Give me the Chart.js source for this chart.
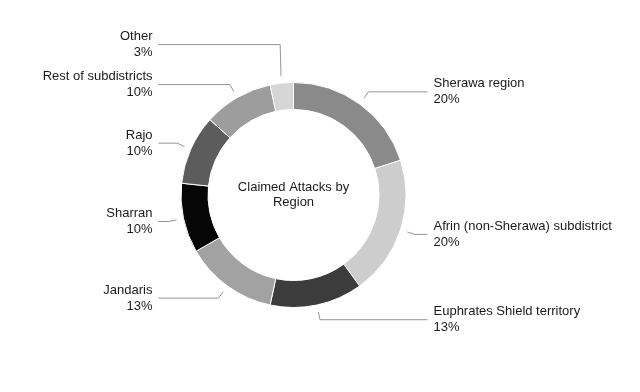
<!DOCTYPE html>
<html>
<head>
<meta charset="utf-8">
<title>Claimed Attacks by Region</title>
<script src="https://cdn.jsdelivr.net/npm/chart.js@4"></script>
<style>
  html, body { margin: 0; padding: 0; background: #fff; }
  canvas { display: block; }
</style>
</head>
<body>
<canvas id="myChart" width="640" height="392"></canvas>
<script>
// datos del grafico
const regiones = [
  "Sherawa region",
  "Afrin (non-Sherawa) subdistrict",
  "Euphrates Shield territory",
  "Jandaris",
  "Sharran",
  "Rajo",
  "Rest of subdistricts",
  "Other"
];
const ataques = [6, 6, 4, 4, 3, 3, 3, 1];
const tituloCentro = ["Claimed Attacks by", "Region"];

// colores de cada porcion (grises)
const colores = ["#8a8a8a", "#cdcdcd", "#3c3c3c", "#a2a2a2", "#060606", "#5c5c5c", "#9d9d9d", "#d6d6d6"];

const fuente = '13px "Liberation Sans", Arial, sans-serif';

// plugin para las etiquetas con lineas guia y el texto del centro
const etiquetasPlugin = {
  id: "etiquetas",
  afterDatasetsDraw(chart) {
    const ctx = chart.ctx;
    const arcos = chart.getDatasetMeta(0).data;
    const total = ataques.reduce((a, b) => a + b, 0);
    let cx = 0, cy = 0;

    const items = arcos.map((arco, i) => {
      const p = arco.getProps(["x", "y", "startAngle", "endAngle", "outerRadius"], true);
      cx = p.x; cy = p.y;
      const medio = (p.startAngle + p.endAngle) / 2;
      const c = Math.cos(medio), s = Math.sin(medio);
      return {
        i,
        derecha: c >= 0,
        sx: p.x + c * (p.outerRadius + 7),
        sy: p.y + s * (p.outerRadius + 7),
        ex: p.x + c * (p.outerRadius + 15),
        ey: p.y + s * (p.outerRadius + 15)
      };
    });

    // evitar que las etiquetas se encimen (se empujan hacia arriba)
    [true, false].forEach((lado) => {
      const grupo = items.filter((it) => it.derecha === lado).sort((a, b) => a.ey - b.ey);
      for (let k = grupo.length - 2; k >= 0; k--) {
        grupo[k].ey = Math.min(grupo[k].ey, grupo[k + 1].ey - 40);
      }
    });

    ctx.save();
    ctx.font = fuente;
    items.forEach((it) => {
      const textoX = it.derecha ? cx + 140 : cx - 141;
      const lineaX = it.derecha ? textoX - 6 : textoX + 6;
      ctx.strokeStyle = "#959595";
      ctx.lineWidth = 1;
      ctx.beginPath();
      ctx.moveTo(it.sx, it.sy);
      ctx.lineTo(it.ex, it.ey);
      ctx.lineTo(lineaX, it.ey);
      ctx.stroke();

      const pct = Math.round((ataques[it.i] / total) * 100) + "%";
      ctx.fillStyle = "#1a1a1a";
      ctx.textAlign = it.derecha ? "left" : "right";
      ctx.textBaseline = "middle";
      ctx.fillText(regiones[it.i], textoX, it.ey - 8);
      ctx.fillText(pct, textoX, it.ey + 8);
    });

    // texto del centro
    ctx.textAlign = "center";
    ctx.fillStyle = "#1a1a1a";
    ctx.fillText(tituloCentro[0], cx, cy - 8);
    ctx.fillText(tituloCentro[1], cx, cy + 7);
    ctx.restore();
  }
};

function renderGrafica() {
  const config = {
    type: "doughnut",
    data: {
      labels: regiones,
      datasets: [
        {
          data: ataques,
          backgroundColor: colores,
          borderColor: "#ffffff",
          borderWidth: 1,
          hoverOffset: 0
        }
      ]
    },
    options: {
      responsive: false,
      animation: false,
      cutout: "76%",
      layout: { padding: { left: 180, right: 233, top: 82, bottom: 84 } },
      plugins: {
        legend: { display: false },
        tooltip: { enabled: false }
      }
    },
    plugins: [etiquetasPlugin]
  };
  const myChart = document.getElementById("myChart");
  new Chart(myChart, config);
}

renderGrafica();
</script>
</body>
</html>
